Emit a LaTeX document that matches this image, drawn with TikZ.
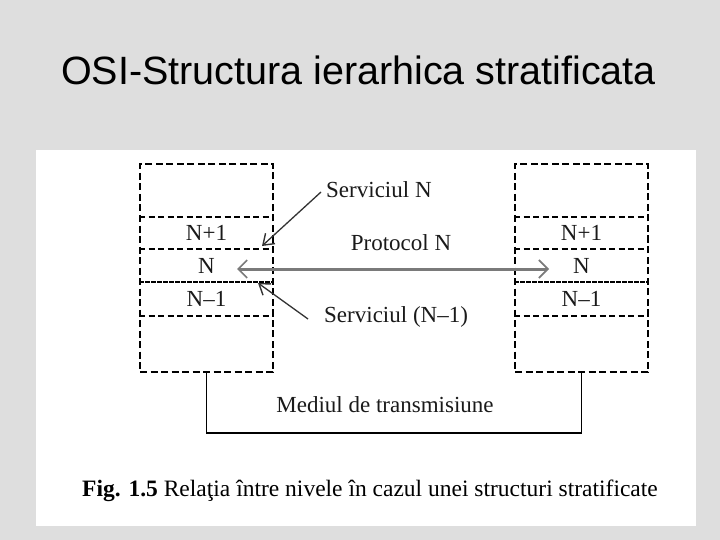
\documentclass[tikz,border=0pt]{standalone}
\usepackage{fontspec}
\setmainfont{Liberation Serif}
\newfontfamily\titlefont{Liberation Sans}
\usetikzlibrary{arrows.meta}
\definecolor{bggray}{HTML}{DEDEDE}
\definecolor{protogray}{HTML}{7A7A7A}
\definecolor{txt}{HTML}{1A1A1A}
\tikzset{
  layerbox/.style={draw=black, line width=1.8pt, dash pattern=on 7pt off 3.5pt,
    minimum width=133pt, minimum height=208pt, inner sep=0pt},
  divider/.style={draw=black, line width=1.4pt, dash pattern=on 6pt off 3.5pt},
  heavydiv/.style={draw=black, line width=2.4pt, dash pattern=on 4.5pt off 1.5pt},
  lbl/.style={font=\fontsize{23}{26}\selectfont, text=txt, inner sep=1pt},
  svc/.style={draw=black!80, line width=1.3pt, -{Straight Barb[length=10pt,width=14pt,line width=1.4pt]}},
  proto/.style={draw=protogray, line width=3pt, {Straight Barb[length=9pt,width=18pt,line width=1.6pt]}-{Straight Barb[length=9pt,width=18pt,line width=1.6pt]}},
  medium/.style={draw=black, line width=1.8pt},
}
\begin{document}
\begin{tikzpicture}[x=1pt,y=-1pt]
\useasboundingbox (0,0) rectangle (720,540);
\fill[bggray] (0,0) rectangle (720,540);
\fill[white] (36,150) rectangle (696,526);
\node[font=\titlefont\fontsize{39.5}{46}\selectfont] (title) at (358.5,70) {OSI-Structura ierarhica stratificata};

% layer stacks
\node[layerbox] (lb) at (206.5,268) {};
\node[layerbox] (rb) at (581.5,268) {};
\foreach \b in {lb,rb}{
  \draw[divider] (\b.west |- 0,217) -- (\b.east |- 0,217);
  \draw[divider] (\b.west |- 0,249) -- (\b.east |- 0,249);
  \draw[heavydiv] (\b.west |- 0,282) -- (\b.east |- 0,282);
  \draw[divider] (\b.west |- 0,316) -- (\b.east |- 0,316);
}
\node[lbl] (lnp) at (206.5,233) {N+1};
\node[lbl] (ln)  at (206.5,265.5) {N};
\node[lbl] (lnm) at (206.5,298.5) {N–1};
\node[lbl] (rnp) at (581.5,233) {N+1};
\node[lbl] (rn)  at (581.5,265.5) {N};
\node[lbl] (rnm) at (581.5,298.5) {N–1};

% protocol
\coordinate (pl) at (237,269);
\coordinate (pr) at (549,269);
\draw[proto] (pl) -- (pr);
\node[lbl] (prot) at (401,243) {Protocol N};

% services
\node[lbl, anchor=west] (sN) at (325,190) {Serviciul N};
\coordinate (tipN) at (262,246);
\draw[svc] ([xshift=-4pt,yshift=-2pt]sN.west) -- (tipN);
\node[lbl, anchor=west] (sN1) at (323,317) {Serviciul (N–1)};
\coordinate (tipN1) at (258,283);
\draw[svc] ([xshift=-15pt,yshift=-2pt]sN1.west) -- (tipN1);

% medium
\draw[medium] (lb.south) -- (lb.south |- 0,433) -| (rb.south);
\node[lbl] (med) at (385,405) {Mediul de transmisiune};

% caption
\node[font=\fontsize{23.5}{27}\selectfont, text=black, inner sep=0pt] (cap) at (370,491)
  {\textbf{Fig. 1.5} Relaţia între nivele în cazul unei structuri stratificate};
\end{tikzpicture}
\end{document}
